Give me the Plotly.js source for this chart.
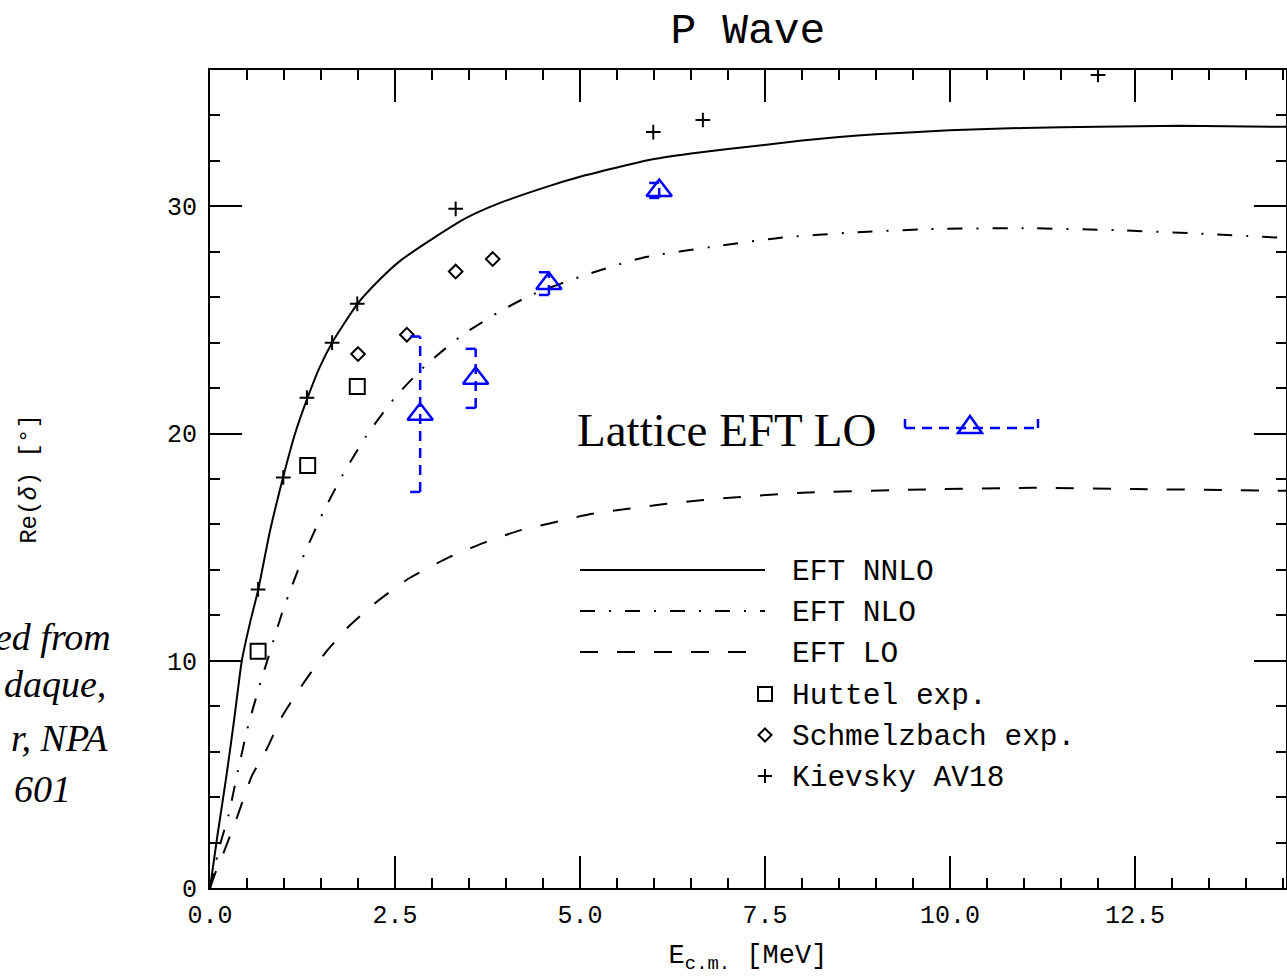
<!DOCTYPE html>
<html>
<head>
<meta charset="utf-8">
<script src="https://cdn.plot.ly/plotly-3.0.1.min.js"></script>
<style>html,body{margin:0;padding:0;background:#fff;}#chart{width:1287px;height:980px;}</style>
</head>
<body>
<div id="chart"></div>
<script>
// ---------- data ----------
const nnloE = [0, 0.1, 0.225, 0.33, 0.43, 0.55, 0.65, 0.81, 0.99, 1.15, 1.31, 1.48, 1.65, 1.99, 2.3, 2.57, 3.02, 3.47, 3.92, 4.59, 5.0, 5.98, 6.5, 7.0, 7.49, 8.0, 8.5, 9.0, 9.99, 11.0, 12.0, 13.1, 14.55];
const nnloD = [0, 2.3, 5.0, 7.5, 10.0, 11.8, 13.1, 15.7, 18.1, 20.0, 21.5, 22.9, 24.0, 25.7, 26.8, 27.6, 28.6, 29.5, 30.15, 30.9, 31.3, 32.07, 32.33, 32.52, 32.7, 32.9, 33.05, 33.17, 33.35, 33.45, 33.5, 33.55, 33.5];

const nloE = [0, 0.135, 0.25, 0.38, 0.52, 0.685, 0.79, 0.97, 1.06, 1.28, 1.53, 1.82, 2.14, 2.52, 2.94, 3.42, 3.94, 4.37, 5.09, 5.86, 6.87, 7.74, 8.7, 9.74, 10.99, 12.24, 13.5, 14.55];
const nloD = [0, 1.9, 3.2, 5.2, 7.2, 9.07, 10.17, 12.07, 12.88, 14.74, 16.54, 18.34, 20.03, 21.67, 23.08, 24.36, 25.42, 26.14, 27.0, 27.75, 28.26, 28.63, 28.85, 29.0, 29.04, 28.95, 28.78, 28.6];

const loE = [0, 0.07, 0.18, 0.36, 0.56, 0.77, 0.97, 1.26, 1.55, 1.89, 2.25, 2.68, 3.22, 3.69, 4.19, 4.66, 5.16, 5.65, 6.17, 6.67, 7.12, 8.0, 9.68, 11.12, 12.5, 14.23, 14.55];
const loD = [0, 0.64, 1.52, 3.06, 4.89, 6.14, 7.53, 9.0, 10.32, 11.56, 12.59, 13.61, 14.54, 15.18, 15.74, 16.1, 16.47, 16.69, 16.91, 17.08, 17.2, 17.4, 17.54, 17.61, 17.56, 17.49, 17.48];

const huttelE = [0.65, 1.32, 1.99];
const huttelD = [10.42, 18.59, 22.07];

const schmelzE = [2.0, 2.66, 3.32, 3.82];
const schmelzD = [23.5, 24.35, 27.13, 27.68];

const kievskyE = [0.65, 0.99, 1.31, 1.65, 1.99, 3.32, 5.99, 6.66, 12.0];
const kievskyD = [13.14, 18.07, 21.58, 24.0, 25.71, 29.89, 33.27, 33.8, 35.78];

const latticeE = [2.84, 3.59, 4.58, 6.07];
const latticeD = [20.85, 22.43, 26.6, 30.7];
const latticeErr = [3.42, 1.3, 0.5, 0.33];

const xTickVals = [0, 2.5, 5.0, 7.5, 10.0, 12.5];
const yTickVals = [0, 10, 20, 30];

const legendLabels = ['EFT NNLO', 'EFT NLO', 'EFT LO', 'Huttel exp.', 'Schmelzbach exp.', 'Kievsky AV18'];
const latticeLabel = 'Lattice EFT LO';
const titleText = 'P Wave';
const xTitle = 'E<sub>c.m.</sub> [MeV]';
const yTitle = 'Re(<i>δ</i>) [°]';
const sideNote = ['ed from', 'daque,', 'r, NPA', '601'];

// ---------- layout geometry ----------
const W = 1287, H = 980;
const M = {l: 210, r: 1, t: 70, b: 92};
const xRange = [0, 14.54], yRange = [0, 36];
const pw = W - M.l - M.r, ph = H - M.t - M.b;
const px = v => (v - M.l) / pw;          // pixel -> paper x
const py = v => (H - M.b - v) / ph;       // pixel -> paper y
const capW = 10 * (xRange[1] - xRange[0]) / pw;  // 10 px cap in data units

const BLUE = '#0000ff';
const MONO = 'Liberation Mono, DejaVu Sans Mono, monospace';
const SERIF = 'Liberation Serif, Times New Roman, serif';

// ---------- traces ----------
const traces = [];
traces.push({x: loE, y: loD, mode: 'lines', line: {color: '#000', width: 2, dash: '18px,19px', shape: 'spline', smoothing: 0.5}, hoverinfo: 'skip'});
traces.push({x: nloE, y: nloD, mode: 'lines', line: {color: '#000', width: 2, dash: '15px,14px,2px,14px', shape: 'spline', smoothing: 0.5}, hoverinfo: 'skip'});
traces.push({x: nnloE, y: nnloD, mode: 'lines', line: {color: '#000', width: 2, shape: 'spline', smoothing: 0.5}, hoverinfo: 'skip'});
traces.push({x: huttelE, y: huttelD, mode: 'markers', marker: {symbol: 'square-open', size: 15, color: '#000', line: {width: 2, color: '#000'}}});
traces.push({x: schmelzE, y: schmelzD, mode: 'markers', marker: {symbol: 'diamond-open', size: 10.5, color: '#000', line: {width: 2, color: '#000'}}});
traces.push({x: kievskyE, y: kievskyD, mode: 'markers', marker: {symbol: 'cross-thin-open', size: 10.5, color: '#000', line: {width: 2, color: '#000'}}});

// lattice error bars (dashed, half caps on the left)
const ebx = [], eby = [];
latticeE.forEach((e, i) => {
  const lo = latticeD[i] - latticeErr[i], hi = latticeD[i] + latticeErr[i];
  ebx.push(e, e, null, e - capW, e, null, e - capW, e, null);
  eby.push(lo, hi, null, hi, hi, null, lo, lo, null);
});
traces.push({x: ebx, y: eby, mode: 'lines', line: {color: BLUE, width: 2.5, dash: '10px,7px'}, connectgaps: false, hoverinfo: 'skip'});
traces.push({x: latticeE, y: latticeD, mode: 'markers', marker: {symbol: 'triangle-up-open', size: 22, color: BLUE, line: {width: 2.5, color: BLUE}}});

// ---------- legend (drawn manually, like the original) ----------
const shapes = [];
const annotations = [];
const legX0 = 580, legX1 = 765, legTextX = 790;
const legY = [570, 611, 652, 694, 735, 776];
const legDash = ['solid', '15px,14px,2px,14px', '18px,19px'];
for (let i = 0; i < 3; i++) {
  shapes.push({type: 'line', xref: 'paper', yref: 'paper', x0: px(legX0), x1: px(legX1), y0: py(legY[i]), y1: py(legY[i]), line: {color: '#000', width: 2, dash: legDash[i]}});
}
// square
shapes.push({type: 'rect', xref: 'paper', yref: 'paper', x0: px(legX1 - 7), x1: px(legX1 + 7), y0: py(legY[3] - 7), y1: py(legY[3] + 7), line: {color: '#000', width: 2}});
// diamond
const dcx = legX1, dcy = legY[4], dr = 6.5;
shapes.push({type: 'path', xref: 'paper', yref: 'paper', path: `M${px(dcx)},${py(dcy - dr)} L${px(dcx + dr)},${py(dcy)} L${px(dcx)},${py(dcy + dr)} L${px(dcx - dr)},${py(dcy)} Z`, line: {color: '#000', width: 2}});
// plus
shapes.push({type: 'line', xref: 'paper', yref: 'paper', x0: px(legX1 - 7), x1: px(legX1 + 7), y0: py(legY[5]), y1: py(legY[5]), line: {color: '#000', width: 2}});
shapes.push({type: 'line', xref: 'paper', yref: 'paper', x0: px(legX1), x1: px(legX1), y0: py(legY[5] - 7), y1: py(legY[5] + 7), line: {color: '#000', width: 2}});

legendLabels.forEach((t, i) => {
  annotations.push({xref: 'paper', yref: 'paper', x: px(legTextX), y: py(legY[i] + 2), xanchor: 'left', yanchor: 'middle', text: t, showarrow: false, font: {family: MONO, size: 29.5, color: '#000'}});
});

// lattice label + sample
annotations.push({xref: 'paper', yref: 'paper', x: px(575), y: py(430), xanchor: 'left', yanchor: 'middle', text: latticeLabel, showarrow: false, font: {family: SERIF, size: 47, color: '#000'}});
const sy = 428, sx0 = 905, sx1 = 1038, scx = 970;
shapes.push({type: 'line', xref: 'paper', yref: 'paper', x0: px(sx0), x1: px(sx1), y0: py(sy), y1: py(sy), line: {color: BLUE, width: 2.5, dash: '10px,7px'}});
shapes.push({type: 'line', xref: 'paper', yref: 'paper', x0: px(sx0), x1: px(sx0), y0: py(sy), y1: py(sy - 9), line: {color: BLUE, width: 2.5}});
shapes.push({type: 'line', xref: 'paper', yref: 'paper', x0: px(sx1), x1: px(sx1), y0: py(sy), y1: py(sy - 9), line: {color: BLUE, width: 2.5}});
shapes.push({type: 'path', xref: 'paper', yref: 'paper', path: `M${px(scx - 12)},${py(433)} L${px(scx + 12)},${py(433)} L${px(scx)},${py(416)} Z`, line: {color: BLUE, width: 2.5}, fillcolor: 'rgba(0,0,0,0)'});

// side note (partially cut text at the left edge, as in the reference)
const noteRight = [113, 108, 110, 73];
const noteY = [637, 684, 738, 789];
sideNote.forEach((t, i) => {
  annotations.push({xref: 'paper', yref: 'paper', x: px(noteRight[i]), y: py(noteY[i]), xanchor: 'right', yanchor: 'middle', text: '<i>' + t + '</i>', showarrow: false, font: {family: SERIF, size: 38, color: '#000'}});
});

const axisCommon = {
  showline: true, linewidth: 2, linecolor: '#000', mirror: 'ticks',
  ticks: 'inside', ticklen: 32, tickwidth: 2, tickcolor: '#000',
  showgrid: false, zeroline: false, fixedrange: true, automargin: false,
  tickfont: {family: MONO, size: 25, color: '#000'}
};

const layout = {
  width: W, height: H, margin: M,
  paper_bgcolor: '#fff', plot_bgcolor: '#fff', showlegend: false,
  title: {text: titleText, font: {family: MONO, size: 43, color: '#000'}, xref: 'paper', x: 0.5, xanchor: 'center', yref: 'container', y: 1 - 28 / H, yanchor: 'middle'},
  xaxis: Object.assign({}, axisCommon, {
    range: xRange, tickvals: xTickVals, ticktext: xTickVals.map(v => v.toFixed(1)), ticklabelstandoff: 3,
    minor: {dtick: 0.5, tick0: 0, ticks: 'inside', ticklen: 10, tickwidth: 2, tickcolor: '#000', showgrid: false},
    title: {text: xTitle, font: {family: MONO, size: 27, color: '#000'}, standoff: 14}
  }),
  yaxis: Object.assign({}, axisCommon, {
    range: yRange, tickvals: yTickVals, ticktext: yTickVals.map(String), ticklabelstandoff: 6,
    minor: {dtick: 2, tick0: 0, ticks: 'inside', ticklen: 10, tickwidth: 2, tickcolor: '#000', showgrid: false},
    title: {text: yTitle, font: {family: MONO, size: 24, color: '#000'}, standoff: 124}
  }),
  shapes: shapes,
  annotations: annotations
};

Plotly.newPlot('chart', traces, layout, {displayModeBar: false, staticPlot: true});
</script>
</body>
</html>
